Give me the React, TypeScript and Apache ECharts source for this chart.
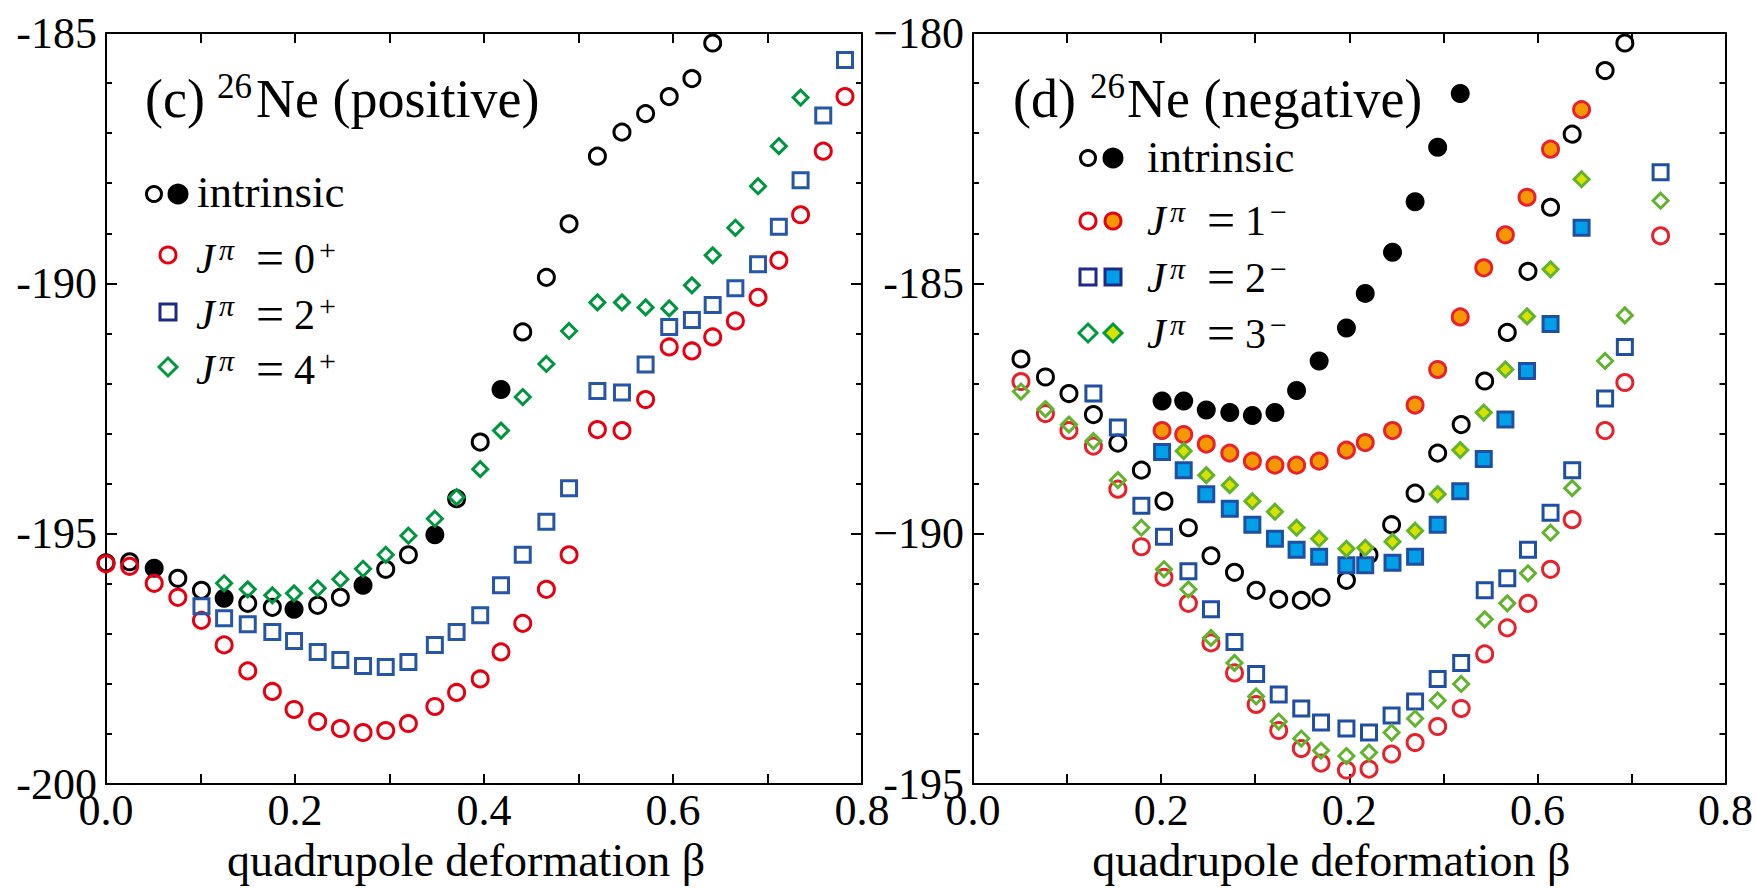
import React, { useEffect, useRef } from "react";
import * as echarts from "echarts";

const SERIF = '"Liberation Serif","Times New Roman","DejaVu Serif",serif';

// ---------------- (c) 26Ne positive parity ----------------
const betaPos = [0, 0.025, 0.051, 0.076, 0.101, 0.125, 0.15, 0.176, 0.199, 0.224, 0.248, 0.272, 0.296, 0.32, 0.348, 0.371, 0.396, 0.418, 0.441, 0.466, 0.49, 0.52, 0.546, 0.571, 0.596, 0.62, 0.642, 0.666, 0.69, 0.712, 0.735, 0.759, 0.782];
const posIntrinsic = [-195.58, -195.56, -195.69, -195.89, -196.13, -196.29, -196.39, -196.47, -196.51, -196.43, -196.27, -196.03, -195.71, -195.42, -195.02, -194.3, -193.17, -192.12, -190.97, -189.88, -188.81, -187.46, -186.98, -186.61, -186.27, -185.91, -185.2];
const posIntrinsicFilledIdx = [2, 5, 8, 11, 14, 17];
const posJ0 = [-195.6, -195.65, -195.99, -196.27, -196.73, -197.22, -197.74, -198.15, -198.51, -198.75, -198.89, -198.97, -198.93, -198.79, -198.45, -198.17, -197.9, -197.36, -196.79, -196.11, -195.42, -192.92, -192.94, -192.32, -191.27, -191.35, -191.07, -190.75, -190.28, -189.54, -188.63, -187.36, -186.27];
const posJ2 = [null, null, null, null, -196.45, -196.69, -196.81, -196.96, -197.14, -197.36, -197.52, -197.64, -197.66, -197.56, -197.22, -196.96, -196.63, -196.03, -195.42, -194.76, -194.09, -192.15, -192.18, -191.62, -190.87, -190.73, -190.43, -190.1, -189.62, -188.87, -187.94, -186.65, -185.54];
const posJ4 = [null, null, null, null, null, -195.99, -196.11, -196.23, -196.19, -196.09, -195.91, -195.7, -195.42, -195.04, -194.7, -194.27, -193.71, -192.94, -192.27, -191.61, -190.95, -190.38, -190.38, -190.48, -190.5, -190.04, -189.44, -188.89, -188.06, -187.26, -186.29, null, null];

// ---------------- (d) 26Ne negative parity ----------------
const betaNegLow = [0.051, 0.077, 0.102, 0.128, 0.154, 0.179, 0.203, 0.229, 0.253, 0.278, 0.301, 0.325, 0.349, 0.37, 0.397, 0.421, 0.445, 0.47, 0.494, 0.519, 0.544, 0.568, 0.59, 0.614, 0.637, 0.672, 0.693, 0.731];
const negIntrinsicOpen = [-186.51, -186.87, -187.2, -187.62, -188.19, -188.73, -189.35, -189.88, -190.44, -190.77, -191.13, -191.31, -191.33, -191.27, -190.93, -190.42, -189.82, -189.19, -188.39, -187.82, -186.95, -185.98, -184.76, -183.48, -182.02, -180.75, -180.2, null];
const negJ1Open = [-186.96, -187.6, -187.94, -188.25, -189.11, -190.26, -190.87, -191.39, -192.18, -192.78, -193.41, -193.93, -194.29, -194.58, -194.72, -194.7, -194.4, -194.17, -193.85, -193.49, -192.4, -191.88, -191.39, -190.71, -189.72, -187.94, -186.98, -184.05];
const negJ2Open = [null, null, null, -187.2, -187.88, -189.44, -190.06, -190.75, -191.51, -192.16, -192.8, -193.21, -193.49, -193.77, -193.89, -193.97, -193.63, -193.35, -192.9, -192.58, -191.13, -190.89, -190.32, -189.58, -188.73, -187.3, -186.27, -182.78];
const negJ3Open = [-187.16, -187.51, -187.82, -188.15, -188.93, -189.88, -190.71, -191.11, -192.08, -192.58, -193.25, -193.75, -194.09, -194.33, -194.44, -194.37, -193.97, -193.69, -193.33, -193.0, -191.71, -191.39, -190.79, -189.98, -189.09, -186.55, -185.64, -183.35];

const betaNegUp = [0.201, 0.224, 0.248, 0.273, 0.297, 0.321, 0.344, 0.368, 0.397, 0.417, 0.446, 0.47, 0.494, 0.518, 0.543, 0.566, 0.589, 0.614, 0.647];
const negIntrinsicFilled = [-187.35, -187.35, -187.53, -187.58, -187.64, -187.58, -187.14, -186.55, -185.89, -185.2, -184.38, -183.37, -182.28, -181.21, null, null, null, null, null];
const negJ1Filled = [-187.94, -188.02, -188.21, -188.39, -188.55, -188.63, -188.63, -188.55, -188.33, -188.18, -187.94, -187.43, -186.72, -185.67, -184.69, -184.03, -183.28, -182.32, -181.53];
const negJ2Filled = [-188.37, -188.73, -189.21, -189.5, -189.82, -190.1, -190.32, -190.46, -190.63, -190.63, -190.58, -190.46, -189.82, -189.15, -188.51, -187.72, -186.75, -185.81, -183.89];
const negJ3Filled = [null, -188.35, -188.83, -189.03, -189.35, -189.56, -189.88, -190.1, -190.3, -190.28, -190.16, -189.94, -189.21, -188.33, -187.58, -186.72, -185.66, -184.72, -182.92];

// ---------------- tick labels ----------------
const posXLabels = ["0.0", "0.2", "0.4", "0.6", "0.8"];
const negXLabels = ["0.0", "0.2", "0.2", "0.6", "0.8"];
const posYLabels = ["-200", "-195", "-190", "-185"];
const negYLabels = ["-195", "\u2212190", "-185", "\u2212180"];
const xName = "quadrupole deformation \u03b2";

const COL = {
  black: "#000000",
  red: "#e60012",
  blue: "#2656a8",
  green: "#00963f",
  red2: "#e8222c",
  orange: "#f39800",
  blue2: "#1f4fa2",
  cyan: "#00a0e9",
  green2: "#62b32e",
  yellow: "#d9e100",
  navy: "#1d2a88",
  legGreen: "#009a3e",
};

function pairs(xs: number[], ys: (number | null)[], keep?: (i: number) => boolean) {
  const out: number[][] = [];
  ys.forEach((y, i) => {
    if (y === null || y === undefined) return;
    if (keep && !keep(i)) return;
    out.push([xs[i], y]);
  });
  return out;
}

function scatter(data: number[][], axis: number, symbol: string, size: number, itemStyle: any, z: number) {
  return {
    type: "scatter",
    xAxisIndex: axis,
    yAxisIndex: axis,
    data,
    symbol,
    symbolSize: size,
    itemStyle: { opacity: 1, ...itemStyle },
    silent: true,
    z,
  };
}

const openStyle = (c: string) => ({ color: "rgba(0,0,0,0)", borderColor: c, borderWidth: 3 });
const filledStyle = (fill: string, border: string) => ({ color: fill, borderColor: border, borderWidth: 3 });

function xAxisDef(grid: number, pos: "bottom" | "top", labels: string[] | null) {
  const bottom = pos === "bottom";
  return {
    type: "value",
    gridIndex: grid,
    position: pos,
    min: 0,
    max: 0.8,
    interval: 0.2,
    axisLine: { show: true, onZero: false, lineStyle: { color: "#000", width: 2 } },
    axisTick: { show: true, inside: true, length: 10, lineStyle: { color: "#000", width: 2 } },
    minorTick: { show: true, splitNumber: 2, length: 10, lineStyle: { color: "#000", width: 2 } },
    splitLine: { show: false },
    minorSplitLine: { show: false },
    axisLabel: bottom && labels
      ? {
          show: true,
          margin: 4,
          fontFamily: SERIF,
          fontSize: 44,
          color: "#000",
          formatter: (v: number) => labels[Math.round(v / 0.2)] ?? "",
        }
      : { show: false },
    name: bottom ? xName : "",
    nameLocation: "middle",
    nameGap: 50,
    nameTextStyle: { fontFamily: SERIF, fontSize: 46, color: "#000", padding: [0, 36, 0, 0] },
  };
}

function yAxisDef(grid: number, pos: "left" | "right", min: number, labels: string[] | null) {
  const left = pos === "left";
  return {
    type: "value",
    gridIndex: grid,
    position: pos,
    min,
    max: min + 15,
    interval: 5,
    axisLine: { show: true, onZero: false, lineStyle: { color: "#000", width: 2 } },
    axisTick: { show: true, inside: true, length: 11, lineStyle: { color: "#000", width: 2 } },
    minorTick: { show: true, splitNumber: 5, length: 6, lineStyle: { color: "#000", width: 2 } },
    splitLine: { show: false },
    minorSplitLine: { show: false },
    axisLabel: left && labels
      ? {
          show: true,
          margin: 9,
          fontFamily: SERIF,
          fontSize: 44,
          color: "#000",
          formatter: (v: number) => labels[Math.round((v - min) / 5)] ?? "",
        }
      : { show: false },
  };
}

function txt(x: number, y: number, text: string, size: number, italic = false) {
  return {
    type: "text",
    x,
    y,
    silent: true,
    style: {
      text,
      fontFamily: SERIF,
      fontSize: size,
      fontStyle: italic ? "italic" : "normal",
      fill: "#000",
      align: "left",
      verticalAlign: "middle",
      textAlign: "left",
      textVerticalAlign: "middle",
    },
  };
}

function mathRow(x0: number, b: number, digit: string, sup: string) {
  return [
    txt(x0, b - 14, "J", 42, true),
    txt(x0 + 23, b - 24, "\u03c0", 30, true),
    txt(x0 + 60, b - 15, "=", 50),
    txt(x0 + 98, b - 14, digit, 42),
    txt(x0 + 123, b - 24, sup, 30),
  ];
}

function circ(cx: number, cy: number, stroke: string, fill: string, r = 8) {
  return { type: "circle", silent: true, shape: { cx, cy, r }, style: { fill, stroke, lineWidth: 3 } };
}
function sq(cx: number, cy: number, stroke: string, fill: string) {
  return { type: "rect", silent: true, shape: { x: cx - 8, y: cy - 8, width: 16, height: 16 }, style: { fill, stroke, lineWidth: 3 } };
}
function dia(cx: number, cy: number, stroke: string, fill: string) {
  const h = 9;
  return {
    type: "polygon",
    silent: true,
    shape: { points: [[cx, cy - h], [cx + h, cy], [cx, cy + h], [cx - h, cy]] },
    style: { fill, stroke, lineWidth: 3 },
  };
}

export default function App() {
  const ref = useRef<HTMLDivElement>(null);

  useEffect(() => {
    document.body.style.margin = "0";
    if (!ref.current) return;
    const chart = echarts.init(ref.current, null, { renderer: "svg" });

    const series = [
      // left panel
      scatter(pairs(betaPos, posIntrinsic, (i) => !posIntrinsicFilledIdx.includes(i)), 0, "circle", 16, openStyle(COL.black), 2),
      scatter(pairs(betaPos, posIntrinsic, (i) => posIntrinsicFilledIdx.includes(i)), 0, "circle", 19, { color: COL.black }, 3),
      scatter(pairs(betaPos, posJ0), 0, "circle", 16, openStyle(COL.red), 4),
      scatter(pairs(betaPos, posJ2), 0, "rect", 15, openStyle(COL.blue), 5),
      scatter(pairs(betaPos, posJ4), 0, "diamond", 15, openStyle(COL.green), 6),
      // right panel
      scatter(pairs(betaNegLow, negIntrinsicOpen), 2, "circle", 16, openStyle(COL.black), 2),
      scatter(pairs(betaNegUp, negIntrinsicFilled), 2, "circle", 19, { color: COL.black }, 3),
      scatter(pairs(betaNegLow, negJ1Open), 2, "circle", 16, openStyle(COL.red2), 4),
      scatter(pairs(betaNegUp, negJ1Filled), 2, "circle", 16, filledStyle(COL.orange, COL.red2), 5),
      scatter(pairs(betaNegLow, negJ2Open), 2, "rect", 15, openStyle(COL.blue2), 6),
      scatter(pairs(betaNegUp, negJ2Filled), 2, "rect", 15, filledStyle(COL.cyan, COL.blue2), 7),
      scatter(pairs(betaNegLow, negJ3Open), 2, "diamond", 15, openStyle(COL.green2), 8),
      scatter(pairs(betaNegUp, negJ3Filled), 2, "diamond", 15, filledStyle(COL.yellow, COL.green2), 9),
    ];

    const graphic = [
      // titles
      txt(145, 99, "(c)", 54),
      txt(217, 86, "26", 35),
      txt(256, 99, "Ne (positive)", 54),
      txt(1013, 99, "(d)", 54),
      txt(1090, 86, "26", 35),
      txt(1127, 99, "Ne (negative)", 54),
      // left legend
      circ(154, 194, COL.black, "none", 7.5),
      circ(178, 194, COL.black, COL.black, 9),
      txt(197, 192, "intrinsic", 45),
      circ(168, 255, COL.red, "none"),
      ...mathRow(196, 273, "0", "+"),
      sq(168, 312, COL.navy, "none"),
      ...mathRow(196, 329, "2", "+"),
      dia(168, 367, COL.legGreen, "none"),
      ...mathRow(196, 384, "4", "+"),
      // right legend
      circ(1088, 158, COL.black, "none", 7.5),
      circ(1113, 158, COL.black, COL.black, 9),
      txt(1147, 157, "intrinsic", 45),
      circ(1088, 221, COL.red, "none"),
      circ(1113, 221, COL.red, COL.orange),
      ...mathRow(1147, 235, "1", "\u2212"),
      sq(1088, 277, COL.navy, "none"),
      sq(1113, 277, COL.navy, COL.cyan),
      ...mathRow(1147, 292, "2", "\u2212"),
      dia(1088, 333, COL.legGreen, "none"),
      dia(1113, 333, COL.legGreen, COL.yellow),
      ...mathRow(1147, 348, "3", "\u2212"),
    ];

    chart.setOption({
      animation: false,
      backgroundColor: "#ffffff",
      grid: [
        { left: 106, top: 33, width: 756, height: 756 },
        { left: 973, top: 33, width: 755, height: 756 },
      ],
      xAxis: [
        xAxisDef(0, "bottom", posXLabels),
        xAxisDef(0, "top", null),
        xAxisDef(1, "bottom", negXLabels),
        xAxisDef(1, "top", null),
      ],
      yAxis: [
        yAxisDef(0, "left", -200, posYLabels),
        yAxisDef(0, "right", -200, null),
        yAxisDef(1, "left", -195, negYLabels),
        yAxisDef(1, "right", -195, null),
      ],
      series,
      graphic,
    });

    return () => chart.dispose();
  }, []);

  return <div ref={ref} style={{ position: "absolute", left: 0, top: 0, width: 1756, height: 888 }} />;
}
